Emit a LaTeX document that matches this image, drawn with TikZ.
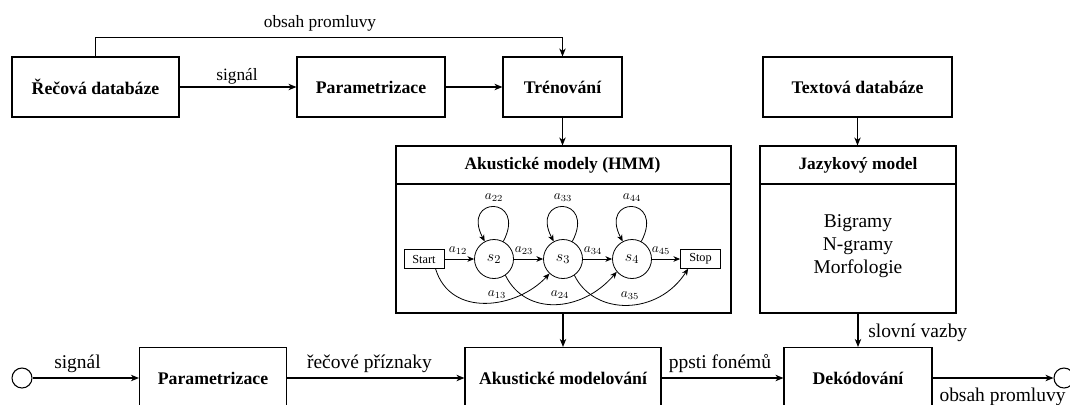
\documentclass[tikz,border=0pt]{standalone}
\usepackage{fontspec}
\setmainfont{Liberation Serif}
\usetikzlibrary{arrows.meta}
\begin{document}
\begin{tikzpicture}[x=0.75pt,y=-0.75pt,
  box/.style={draw, line width=0.8pt, inner sep=0pt, minimum height=45pt,
    font=\fontsize{13.3}{16}\selectfont\bfseries},
  panel/.style={draw, line width=0.8pt, inner sep=0pt, minimum height=125.25pt},
  head/.style={inner sep=0pt, font=\fontsize{13}{16}\selectfont\bfseries},
  conn/.style={line width=0.8pt, -{Stealth[length=6pt,width=4.8pt,inset=1.8pt]}},
  lbl/.style={inner sep=0pt, font=\fontsize{13}{15}\selectfont},
  lblbig/.style={inner sep=0pt, font=\fontsize{14.6}{17.5}\selectfont},
  endpt/.style={circle, draw, line width=0.8pt, minimum size=15pt, inner sep=0pt},
  hmmstate/.style={circle, draw, line width=0.6pt, minimum size=29.25pt, inner sep=0pt,
    font=\fontsize{12.5}{14}\selectfont},
  termbox/.style={draw, line width=0.6pt, minimum width=30pt, minimum height=13.9pt,
    inner sep=0pt, font=\fontsize{9.2}{10}\selectfont},
  tinyarr/.style={line width=0.6pt, -{Stealth[length=5pt,width=4.2pt,inset=1.5pt]}},
  mlbl/.style={inner sep=0pt, font=\fontsize{9.75}{11}\selectfont}]
\useasboundingbox (0,0) rectangle (1070,404);

% training chain
\node[box, minimum width=125.25pt] (rec) at (95.5,87) {Řečová databáze};
\node[box, minimum width=111pt] (partop) at (371,87) {Parametrizace};
\node[box, minimum width=89.25pt] (tren) at (562.5,87) {Trénování};
\node[box, minimum width=141.75pt] (textdb) at (857.5,87) {Textová databáze};

\draw[conn] (rec) -- (partop);
\draw[conn] (partop) -- (tren);
\draw[conn] (rec.north) -- ++(0,-19) -| (tren.north);
\node[lbl, anchor=base] (lobsahtop) at (320,27) {obsah promluvy};
\node[lbl, anchor=base] (lsigtop) at (237,80) {signál};

% model panels
\coordinate (divy) at (0,184);
\node[panel, minimum width=251.25pt] (hmm) at (563.5,229.5) {};
\node[head, font=\fontsize{13.1}{16}\selectfont\bfseries] (hmmhead) at (562.5,165) {Akustické modely (HMM)};
\draw[line width=0.8pt] (hmm.west |- divy) -- (hmm.east |- divy);

\node[panel, minimum width=147pt] (jaz) at (858,229.5) {};
\node[head] (jazhead) at (858,165) {Jazykový model};
\draw[line width=0.8pt] (jaz.west |- divy) -- (jaz.east |- divy);
\node[lblbig, align=center] (jazbody) at (858,246) {Bigramy\\N-gramy\\Morfologie};

\draw[conn] (tren.south) -- (tren.south |- hmm.north);
\draw[conn] (textdb.south) -- (textdb.south |- jaz.north);

% HMM chain
\node[termbox] (start) at (424,259) {Start};
\node[hmmstate] (s2) at (494,259) {$s_2$};
\node[hmmstate] (s3) at (563,259) {$s_3$};
\node[hmmstate] (s4) at (632,259) {$s_4$};
\node[termbox] (stop) at (700.5,259) {Stop};

\draw[tinyarr] (start) -- (s2);
\draw[tinyarr] (s2) -- (s3);
\draw[tinyarr] (s3) -- (s4);
\draw[tinyarr] (s4) -- (stop);
\node[mlbl] (a12) at (458,251) {$a_{12}$};
\node[mlbl] (a23) at (524,251) {$a_{23}$};
\node[mlbl] (a34) at (593,251) {$a_{34}$};
\node[mlbl] (a45) at (661,251) {$a_{45}$};

% self transitions
\foreach \s in {s2, s3, s4}{
  \draw[tinyarr] (\s.62) .. controls +(24,-46) and +(-24,-46) .. (\s.118);
}
\node[mlbl] (a22) at (494,198) {$a_{22}$};
\node[mlbl] (a33) at (563,198) {$a_{33}$};
\node[mlbl] (a44) at (632,198) {$a_{44}$};

% skip transitions
\draw[tinyarr] (start.-40) .. controls +(15,50) and +(-32,35) .. (s3.227);
\draw[tinyarr] (s2.-55) .. controls +(20,41) and +(-35,41) .. (s4.220);
\draw[tinyarr] (s3.-55) .. controls +(20,41) and +(-30,47) .. (stop.218);
\node[mlbl] (a13) at (497,295) {$a_{13}$};
\node[mlbl] (a24) at (560,295) {$a_{24}$};
\node[mlbl] (a35) at (630,296) {$a_{35}$};

% recognition chain
\node[endpt] (inL) at (22,378) {};
\node[box, minimum width=110.25pt, minimum height=45.75pt] (parbot) at (213,378) {Parametrizace};
\node[box, minimum width=147pt, minimum height=45.75pt] (akm) at (563,378) {Akustické modelování};
\node[box, minimum width=111pt, minimum height=45.75pt] (dek) at (858,378) {Dekódování};
\node[endpt] (outR) at (1064,378) {};

\draw[conn] (inL) -- (parbot);
\draw[conn] (parbot) -- (akm);
\draw[conn] (akm) -- (dek);
\draw[conn] (dek) -- (outR);
\draw[conn] (akm.north |- hmm.south) -- (akm.north);
\draw[conn] (dek.north |- jaz.south) -- (dek.north);

\node[lblbig, anchor=base] (lsigbot) at (77.5,368) {signál};
\node[lblbig, anchor=base] (lpriz) at (369.5,368) {řečové příznaky};
\node[lblbig, anchor=base] (lppsti) at (720,368) {ppsti fonémů};
\node[lblbig, anchor=base west] (lvazby) at (868,337) {slovní vazby};
\node[lblbig, anchor=base] (lobsahbot) at (1002.5,401) {obsah promluvy};
\end{tikzpicture}
\end{document}
